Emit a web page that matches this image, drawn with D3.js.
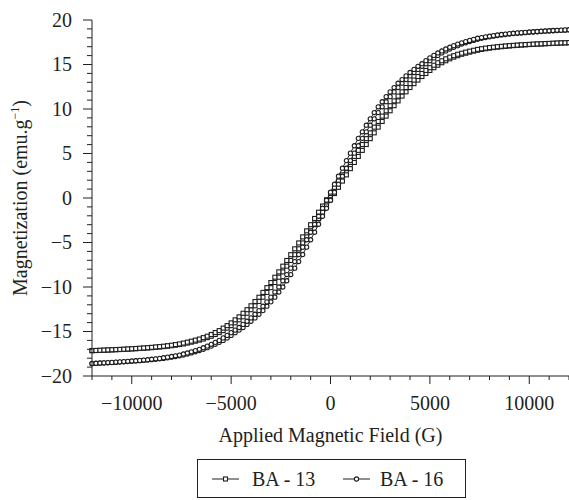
<!DOCTYPE html>
<html>
<head>
<meta charset="utf-8">
<script src="https://cdn.jsdelivr.net/npm/d3@7/dist/d3.min.js"></script>
<style>
  html, body { margin: 0; padding: 0; background: #fff; }
  svg { display: block; }
  text { font-family: "Liberation Serif", "Times New Roman", serif; fill: #231f20; }
</style>
</head>
<body>
<svg id="chart" width="569" height="500" font-family="Liberation Serif, serif"></svg>
<script>
// ---- Data ----
const fieldG = [-12000,-11800,-11600,-11400,-11200,-11000,-10800,-10600,-10400,-10200,
  -10000,-9800,-9600,-9400,-9200,-9000,-8800,-8600,-8400,-8200,
  -8000,-7800,-7600,-7400,-7200,-7000,-6800,-6600,-6400,-6200,
  -6000,-5800,-5600,-5400,-5200,-5000,-4800,-4600,-4400,-4200,
  -4000,-3800,-3600,-3400,-3200,-3000,-2800,-2600,-2400,-2200,
  -2000,-1800,-1600,-1400,-1200,-1000,-800,-600,-400,-200,
  0,200,400,600,800,1000,1200,1400,1600,1800,
  2000,2200,2400,2600,2800,3000,3200,3400,3600,3800,
  4000,4200,4400,4600,4800,5000,5200,5400,5600,5800,
  6000,6200,6400,6600,6800,7000,7200,7400,7600,7800,
  8000,8200,8400,8600,8800,9000,9200,9400,9600,9800,
  10000,10200,10400,10600,10800,11000,11200,11400,11600,11800,12000];

const ba13Up = [-17.16,-17.14,-17.13,-17.11,-17.09,-17.07,-17.05,-17.03,-17.01,-16.99,
  -16.96,-16.94,-16.91,-16.88,-16.85,-16.82,-16.78,-16.74,-16.70,-16.65,
  -16.60,-16.54,-16.47,-16.40,-16.30,-16.20,-16.09,-15.97,-15.85,-15.69,
  -15.53,-15.34,-15.12,-14.90,-14.62,-14.34,-14.03,-13.69,-13.35,-12.95,
  -12.55,-12.11,-11.63,-11.15,-10.61,-10.07,-9.50,-8.90,-8.30,-7.66,
  -7.02,-6.37,-5.71,-5.05,-4.37,-3.69,-3.00,-2.30,-1.60,-0.90,
  -0.20,0.50,1.20,1.90,2.60,3.30,3.99,4.67,5.35,6.01,
  6.67,7.32,7.96,8.60,9.20,9.80,10.37,10.91,11.45,11.93,
  12.41,12.85,13.25,13.65,13.99,14.33,14.64,14.92,15.20,15.42,
  15.64,15.83,15.99,16.15,16.27,16.39,16.50,16.60,16.70,16.77,
  16.84,16.90,16.95,17.00,17.04,17.08,17.12,17.15,17.18,17.21,
  17.24,17.26,17.29,17.31,17.33,17.35,17.37,17.39,17.41,17.43,17.44];

const ba13Down = [-17.14,-17.13,-17.11,-17.09,-17.07,-17.05,-17.03,-17.01,-16.99,-16.96,
  -16.94,-16.91,-16.88,-16.85,-16.82,-16.78,-16.74,-16.70,-16.65,-16.60,
  -16.54,-16.47,-16.40,-16.30,-16.20,-16.09,-15.97,-15.85,-15.69,-15.53,
  -15.34,-15.12,-14.90,-14.62,-14.34,-14.03,-13.69,-13.35,-12.95,-12.55,
  -12.11,-11.63,-11.15,-10.61,-10.07,-9.50,-8.90,-8.30,-7.66,-7.02,
  -6.37,-5.71,-5.05,-4.37,-3.69,-3.00,-2.30,-1.60,-0.90,-0.20,
  0.50,1.20,1.90,2.60,3.30,3.99,4.67,5.35,6.01,6.67,
  7.32,7.96,8.60,9.20,9.80,10.37,10.91,11.45,11.93,12.41,
  12.85,13.25,13.65,13.99,14.33,14.64,14.92,15.20,15.42,15.64,
  15.83,15.99,16.15,16.27,16.39,16.50,16.60,16.70,16.77,16.84,
  16.90,16.95,17.00,17.04,17.08,17.12,17.15,17.18,17.21,17.24,
  17.26,17.29,17.31,17.33,17.35,17.37,17.39,17.41,17.43,17.44,17.46];

const ba16Up = [-18.61,-18.59,-18.56,-18.54,-18.52,-18.49,-18.47,-18.44,-18.41,-18.38,
  -18.35,-18.31,-18.28,-18.25,-18.21,-18.17,-18.12,-18.07,-18.02,-17.95,
  -17.88,-17.81,-17.73,-17.65,-17.53,-17.41,-17.28,-17.14,-17.00,-16.82,
  -16.64,-16.44,-16.22,-16.00,-15.72,-15.44,-15.13,-14.84,-14.55,-14.20,
  -13.85,-13.47,-13.06,-12.65,-12.16,-11.67,-11.14,-10.57,-10.00,-9.30,
  -8.60,-7.88,-7.14,-6.35,-5.52,-4.69,-3.85,-2.95,-2.05,-1.15,
  -0.25,0.65,1.55,2.45,3.35,4.20,5.04,5.87,6.70,7.44,
  8.18,8.90,9.60,10.25,10.82,11.39,11.92,12.41,12.90,13.31,
  13.72,14.10,14.45,14.80,15.09,15.43,15.74,16.02,16.30,16.52,
  16.74,16.94,17.12,17.30,17.44,17.58,17.71,17.83,17.95,18.03,
  18.11,18.18,18.25,18.32,18.37,18.42,18.47,18.51,18.55,18.58,
  18.61,18.65,18.68,18.71,18.74,18.77,18.79,18.82,18.84,18.86,18.89];

const ba16Down = [-18.59,-18.56,-18.54,-18.52,-18.49,-18.47,-18.44,-18.41,-18.38,-18.35,
  -18.31,-18.28,-18.25,-18.21,-18.17,-18.12,-18.07,-18.02,-17.95,-17.88,
  -17.81,-17.73,-17.65,-17.53,-17.41,-17.28,-17.14,-17.00,-16.82,-16.64,
  -16.44,-16.22,-16.00,-15.72,-15.44,-15.13,-14.84,-14.55,-14.20,-13.85,
  -13.47,-13.06,-12.65,-12.16,-11.67,-11.14,-10.57,-10.00,-9.30,-8.60,
  -7.88,-7.14,-6.35,-5.52,-4.69,-3.85,-2.95,-2.05,-1.15,-0.25,
  0.65,1.55,2.45,3.35,4.20,5.04,5.87,6.70,7.44,8.18,
  8.90,9.60,10.25,10.82,11.39,11.92,12.41,12.90,13.31,13.72,
  14.10,14.45,14.80,15.09,15.43,15.74,16.02,16.30,16.52,16.74,
  16.94,17.12,17.30,17.44,17.58,17.71,17.83,17.95,18.03,18.11,
  18.18,18.25,18.32,18.37,18.42,18.47,18.51,18.55,18.58,18.61,
  18.65,18.68,18.71,18.74,18.77,18.79,18.82,18.84,18.86,18.89,18.91];

const xTickValues = [-10000, -5000, 0, 5000, 10000];
const xTickLabels = ["\u221210000", "\u22125000", "0", "5000", "10000"];
const yTickValues = [-20, -15, -10, -5, 0, 5, 10, 15, 20];
const yTickLabels = ["\u221220", "\u221215", "\u221210", "\u22125", "0", "5", "10", "15", "20"];
const seriesNames = ["BA - 13", "BA - 16"];
const xTitle = "Applied Magnetic Field (G)";
const yTitleMain = "Magnetization (emu.g";
const yTitleSup = "\u22121";

// ---- Drawing ----
const ink = "#231f20";
const markInk = "#1e1e1e";
const svg = d3.select("#chart");
const x = d3.scaleLinear().domain([-12000, 12000]).range([92, 569]);
const y = d3.scaleLinear().domain([-20, 20]).range([376, 20]);

const series = [
  { name: seriesNames[0], shape: "square", branches: [ba13Up, ba13Down] },
  { name: seriesNames[1], shape: "circle", branches: [ba16Up, ba16Down] }
];

const line = d3.line().x(d => x(d[0])).y(d => y(d[1]));
const plot = svg.append("g");

function drawMarker(g, shape, cx, cy) {
  if (shape === "square") {
    g.append("rect").attr("x", cx - 2).attr("y", cy - 2).attr("width", 4).attr("height", 4)
      .attr("fill", "#fff").attr("stroke", markInk).attr("stroke-width", 1.1);
  } else {
    g.append("circle").attr("cx", cx).attr("cy", cy).attr("r", 2.1)
      .attr("fill", "#fff").attr("stroke", markInk).attr("stroke-width", 1.1);
  }
}

series.forEach(s => {
  s.branches.forEach(b => {
    const pts = fieldG.map((h, i) => [h, b[i]]);
    plot.append("path").attr("d", line(pts)).attr("fill", "none")
      .attr("stroke", markInk).attr("stroke-width", 1);
  });
});
series.forEach(s => {
  const g = plot.append("g");
  s.branches.forEach(b => {
    fieldG.forEach((h, i) => drawMarker(g, s.shape, x(h), y(b[i])));
  });
});

// Axes
const axes = svg.append("g").attr("stroke", ink).attr("stroke-width", 1);
axes.append("line").attr("x1", 92).attr("x2", 92).attr("y1", y(20)).attr("y2", y(-20));
axes.append("line").attr("x1", x(-12000)).attr("x2", x(12000)).attr("y1", 376).attr("y2", 376);

// y ticks
y.ticks(40).forEach(v => {
  const major = yTickValues.includes(v);
  axes.append("line").attr("x1", 92).attr("x2", 92 - (major ? 9 : 5))
    .attr("y1", y(v)).attr("y2", y(v));
});
// x ticks
x.ticks(24).forEach(v => {
  const major = xTickValues.includes(v);
  axes.append("line").attr("x1", x(v)).attr("x2", x(v))
    .attr("y1", 376).attr("y2", 376 + (major ? 8 : 4));
});

svg.append("g").selectAll("text").data(yTickValues).join("text")
  .attr("x", 72).attr("y", d => y(d)).attr("dy", "0.33em")
  .attr("text-anchor", "end").attr("font-size", 20)
  .text((d, i) => yTickLabels[i]);

svg.append("g").selectAll("text").data(xTickValues).join("text")
  .attr("x", d => x(d)).attr("y", 410)
  .attr("text-anchor", "middle").attr("font-size", 20)
  .text((d, i) => xTickLabels[i]);

svg.append("text").attr("x", x(0)).attr("y", 442).attr("text-anchor", "middle")
  .attr("font-size", 20).text(xTitle);

const yt = svg.append("text").attr("transform", `translate(27,${y(0)}) rotate(-90)`)
  .attr("text-anchor", "middle").attr("font-size", 20);
yt.append("tspan").text(yTitleMain);
yt.append("tspan").attr("font-size", 12).attr("dy", -8).text(yTitleSup);
yt.append("tspan").attr("dy", 8).text(")");

// Legend
const leg = svg.append("g");
leg.append("rect").attr("x", 197.5).attr("y", 459.5).attr("width", 268).attr("height", 38)
  .attr("fill", "none").attr("stroke", ink).attr("stroke-width", 1);
const legItems = [
  { s: series[0], x0: 212, tx: 252 },
  { s: series[1], x0: 343, tx: 380 }
];
legItems.forEach(it => {
  const ly = 479;
  leg.append("line").attr("x1", it.x0).attr("x2", it.x0 + 27).attr("y1", ly).attr("y2", ly)
    .attr("stroke", ink).attr("stroke-width", 1);
  drawMarker(leg, it.s.shape, it.x0 + 13.5, ly);
  leg.append("text").attr("x", it.tx).attr("y", ly + 7).attr("font-size", 20).text(it.s.name);
});
</script>
</body>
</html>
